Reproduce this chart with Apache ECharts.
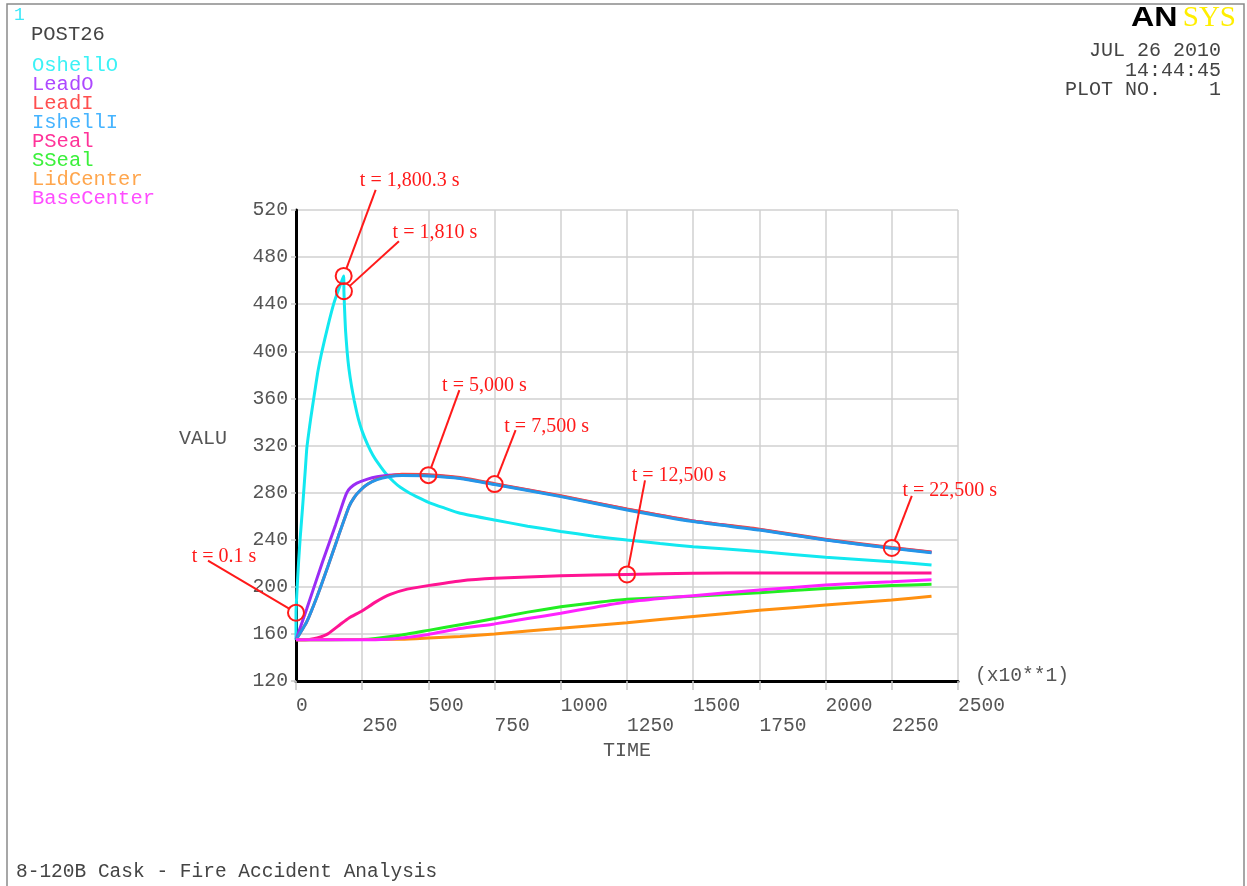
<!DOCTYPE html>
<html>
<head>
<meta charset="utf-8">
<script src="https://cdn.jsdelivr.net/npm/echarts@6.0.0/dist/echarts.min.js"></script>
<style>
html,body{margin:0;padding:0;background:#fff;}
#main{width:1247px;height:886px;}
</style>
</head>
<body>
<div id="main"></div>
<script>
// series names + colours (legend order)
var seriesNames = ['OshellO','LeadO','LeadI','IshellI','PSeal','SSeal','LidCenter','BaseCenter'];
var lineColors  = ['#12e8f0','#9a2cf5','#f04848','#2496e8','#ff1493','#22ee22','#ff9010','#ff22ff'];
var legendColors= ['#3cf2f6','#ad48ff','#ff4f4f','#46b4ff','#ff3399','#3cf03c','#ffa64d','#ff4dff'];

// time (x10 s) / value pairs
var oshellO = [[0,155],[0.01,178],[4,198],[10,222],[16,242],[26,271],[35,299],[41,318],[55,342],[67,360],[82,382],[98,400],[120,421],[142,440],[160,452],[175,461],[180.03,464],[181,451],[183,438],[187,418],[193,400],[200,385],[210,370],[220,358],[235,343],[250,332],[270,321],[290,312],[310,305],[340,296],[370,289],[394,284.5],[430,279.5],[465,275.5],[498,272],[560,267],[620,262.5],[750,256.7],[875,251.5],[1000,247],[1125,243],[1250,239.7],[1375,236.7],[1500,234],[1750,230],[2000,225],[2250,221.3],[2400,218.5]];
var leadO = [[0,155],[40,181],[100,221],[150,253],[180,273],[192,280],[205,284],[230,288],[270,291.5],[306,293.5],[350,294.7],[400,295.3],[500,294.8],[620,292.3],[750,287.2],[1000,277],[1250,265.8],[1500,255.8],[1750,248.6],[2000,240],[2250,233],[2400,229.3]];
var leadI = [[0,155],[40,170],[80,192],[120,217],[160,243],[200,268],[220,276],[243,282],[270,287],[306,291.5],[350,294],[400,295.5],[500,295.2],[620,292.8],[750,287.6],[1000,277.3],[1250,266],[1500,256],[1750,248.9],[2000,240.4],[2250,233.4],[2400,229.6]];
var ishellI = [[0,155],[40,170],[80,192],[120,217],[160,243],[200,268],[220,276],[243,282],[270,287],[306,291],[350,293.5],[400,294.6],[500,294.2],[620,292],[750,286.8],[1000,276.6],[1250,265.3],[1500,255.4],[1750,248.2],[2000,239.7],[2250,232.7],[2400,229]];
var pSeal = [[0,155],[50,155.3],[80,156.5],[120,160],[167,168],[200,173.5],[249,179.5],[300,187],[356,193.5],[420,198],[498,201],[620,205],[750,207.2],[1000,209.4],[1250,210.5],[1500,211.5],[1750,211.8],[2000,211.8],[2400,211.8]];
var sSeal = [[0,155],[250,155.2],[300,156],[400,159],[500,163],[620,167.8],[750,173],[875,178.5],[1000,183],[1125,186.5],[1250,189.5],[1500,192],[1750,195],[2000,198.5],[2250,201],[2400,202.2]];
var lidCenter = [[0,155],[400,155.5],[500,156.5],[620,157.8],[750,160],[1000,164.8],[1250,169.5],[1500,174.8],[1750,180],[2000,184.5],[2250,188.8],[2400,192]];
var baseCenter = [[0,155],[300,155.1],[400,156.5],[500,159.5],[620,164.5],[750,168.5],[875,173],[1000,177.5],[1125,182.5],[1250,187],[1375,190],[1500,192.5],[1750,197.3],[2000,201.5],[2250,204.3],[2400,206]];
var seriesData = [oshellO, leadO, leadI, ishellI, pSeal, sSeal, lidCenter, baseCenter];

// callouts
var annTimes  = [0.01, 180.03, 181, 500, 750, 1250, 2250];
var annValues = [178, 464, 451, 294.8, 287.2, 210.5, 233];
var annLabels = ['t = 0.1 s','t = 1,800.3 s','t = 1,810 s','t = 5,000 s','t = 7,500 s','t = 12,500 s','t = 22,500 s'];

var MONO = '"Liberation Mono", "DejaVu Sans Mono", monospace';
var RED = '#ff1a1a';
var GREY = '#555';

var chart = echarts.init(document.getElementById('main'));

var series = [];
for (var i = 0; i < seriesNames.length; i++) {
	series.push({
		name: seriesNames[i],
		type: 'line',
		data: seriesData[i],
		symbol: 'none',
		smooth: 0.15,
		lineStyle: { color: lineColors[i], width: 3 },
		itemStyle: { color: lineColors[i] }
	});
}

var legendData = [];
for (var j = 0; j < seriesNames.length; j++) {
	legendData.push({ name: seriesNames[j], textStyle: { color: legendColors[j] } });
}

var option = {
	backgroundColor: '#fff',
	animation: false,
	grid: { left: 296, right: 289, top: 210, bottom: 205 },
	legend: {
		orient: 'vertical',
		left: 26, top: 55,
		padding: 0,
		itemGap: -2,
		itemWidth: 0, itemHeight: 0,
		selectedMode: false,
		textStyle: { fontFamily: MONO, fontSize: 20.5, lineHeight: 19.2 },
		data: legendData
	},
	xAxis: {
		type: 'value',
		min: 0, max: 2500, interval: 250,
		name: 'TIME',
		nameLocation: 'middle',
		nameGap: 53,
		nameTextStyle: { fontFamily: MONO, fontSize: 20, color: GREY },
		axisLine: { lineStyle: { color: '#000', width: 3 } },
		axisTick: { length: 9, lineStyle: { color: '#c8c8c8', width: 1.5 } },
		splitLine: { lineStyle: { color: '#d0d0d0', width: 1.5 } },
		axisLabel: {
			align: 'left',
			margin: 15,
			fontFamily: MONO, fontSize: 19.6, lineHeight: 20, color: GREY,
			formatter: function (v) {
				return (Math.round(v / 250) % 2 === 1) ? '\n' + v : '' + v;
			}
		}
	},
	yAxis: {
		type: 'value',
		min: 120, max: 520, interval: 40,
		name: 'VALU',
		nameLocation: 'middle',
		nameRotate: 0,
		nameGap: 69,
		nameTextStyle: { fontFamily: MONO, fontSize: 20, color: GREY, verticalAlign: 'bottom', lineHeight: 14 },
		axisLine: { show: true, lineStyle: { color: '#000', width: 3 } },
		axisTick: { show: true, length: 5, lineStyle: { color: '#c8c8c8', width: 1.5 } },
		splitLine: { lineStyle: { color: '#d0d0d0', width: 1.5 } },
		axisLabel: { margin: 8, fontFamily: MONO, fontSize: 19.8, color: GREY }
	},
	series: series
};

chart.setOption(option);

// offsets of label centre and leader start from each callout point
var annOffsets = [[-72,-56,-88,-52],[66,-95,32,-86],[91,-58,55,-50],[56,-89,31,-85],[52,-57,21,-54],[52,-99,18,-94],[58,-57,20,-52]];

function makeGraphics() {
	var g = [];
	g.push({ type: 'rect', shape: { x: 7, y: 4, width: 1237, height: 890 }, style: { fill: 'transparent', stroke: '#8a8a8a', lineWidth: 1.5 }, silent: true });
	g.push({ type: 'text', x: 14, y: 15, style: { text: '1', font: '18px ' + MONO, fill: '#3ce8f8', verticalAlign: 'middle' } });
	g.push({ type: 'text', x: 31, y: 35, style: { text: 'POST26', font: '20.5px ' + MONO, fill: '#444', verticalAlign: 'middle' } });
	g.push({ type: 'text', x: 1131, y: 18, scaleX: 1.15, style: { text: 'AN', font: 'bold 28px "Liberation Sans", Arial, sans-serif', fill: '#000', verticalAlign: 'middle' } });
	g.push({ type: 'text', x: 1236, y: 18, style: { text: 'SYS', font: '29px "Liberation Serif", serif', fill: '#ffee00', align: 'right', verticalAlign: 'middle' } });
	g.push({ type: 'text', x: 1221, y: 51, style: { text: 'JUL 26 2010', font: '20px ' + MONO, fill: '#444', align: 'right', verticalAlign: 'middle' } });
	g.push({ type: 'text', x: 1221, y: 71, style: { text: '14:44:45', font: '20px ' + MONO, fill: '#444', align: 'right', verticalAlign: 'middle' } });
	g.push({ type: 'text', x: 1221, y: 90, style: { text: 'PLOT NO.    1', font: '20px ' + MONO, fill: '#444', align: 'right', verticalAlign: 'middle' } });
	g.push({ type: 'text', x: 16, y: 872, style: { text: '8-120B Cask - Fire Accident Analysis', font: '19.5px ' + MONO, fill: '#444', verticalAlign: 'middle' } });

	var end = chart.convertToPixel({ gridIndex: 0 }, [2500, 120]);
	g.push({ type: 'text', x: end[0] + 17, y: end[1] - 5, style: { text: '(x10**1)', font: '19.6px ' + MONO, fill: GREY, verticalAlign: 'middle' } });

	var r = 8;
	for (var k = 0; k < annTimes.length; k++) {
		var p = chart.convertToPixel({ gridIndex: 0 }, [annTimes[k], annValues[k]]);
		var o = annOffsets[k];
		var sx = p[0] + o[2], sy = p[1] + o[3];
		var dx = p[0] - sx, dy = p[1] - sy;
		var len = Math.sqrt(dx * dx + dy * dy);
		g.push({ type: 'line', z: 100, shape: { x1: sx, y1: sy, x2: p[0] - dx / len * r, y2: p[1] - dy / len * r }, style: { stroke: RED, lineWidth: 2 } });
		g.push({ type: 'circle', z: 100, shape: { cx: p[0], cy: p[1], r: r }, style: { fill: 'transparent', stroke: RED, lineWidth: 2 } });
		g.push({ type: 'text', z: 101, x: p[0] + o[0], y: p[1] + o[1], style: { text: annLabels[k], font: '20px "Liberation Serif", "Times New Roman", serif', fill: RED, align: 'center', verticalAlign: 'middle' } });
	}
	return g;
}

chart.setOption({ graphic: { elements: makeGraphics() } });
</script>
</body>
</html>
